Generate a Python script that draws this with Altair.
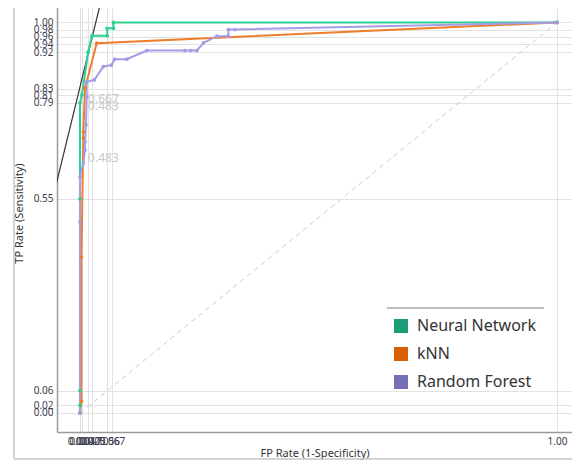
import altair as alt
import pandas as pd

series = ["Neural Network", "kNN", "Random Forest"]
line_colors = ["#2fcf90", "#f07d2a", "#a29de6"]
legend_colors = ["#1b9e77", "#d95f02", "#7570b3"]

nn_fpr = [0, 0, 0, 0, 0, 0.004, 0.017, 0.025, 0.057, 0.057, 0.070, 0.070, 1.0]
nn_tpr = [0, 0.02, 0.057, 0.548, 0.794, 0.814, 0.924, 0.966, 0.966, 0.985, 0.985, 1.0, 1.0]

knn_fpr = [0, 0.003, 0.003, 0.007, 0.007, 0.0105, 0.035, 1.0]
knn_tpr = [0, 0.03, 0.40, 0.704, 0.72, 0.832, 0.947, 1.0]

rf_fpr = [0, 0, 0, 0.007, 0.0105, 0.0105, 0.0126, 0.014, 0.014, 0.030, 0.049, 0.066,
          0.073, 0.098, 0.140, 0.220, 0.232, 0.245, 0.259, 0.287, 0.311, 0.311, 0.325, 1.0]
rf_tpr = [0, 0.49, 0.605, 0.64, 0.673, 0.695, 0.738, 0.81, 0.848, 0.853, 0.887, 0.891,
          0.906, 0.906, 0.928, 0.928, 0.928, 0.928, 0.948, 0.965, 0.965, 0.982, 0.982, 1.0]

x_ticks = [0, 0.004, 0.017, 0.025, 0.056, 0.067, 1.0]
y_ticks = [0, 0.02, 0.057, 0.548, 0.794, 0.814, 0.83, 0.924, 0.944, 0.964, 0.982, 1.0]

thr_labels = ["0.667", "0.483", "0.483"]
thr_fpr = [0.017, 0.017, 0.017]
thr_tpr = [0.804, 0.785, 0.653]

perf_fpr = [-0.07, 0.07]
perf_tpr = [0.485, 1.185]

rows = []
for name, xs, ys in [(series[0], nn_fpr, nn_tpr), (series[1], knn_fpr, knn_tpr), (series[2], rf_fpr, rf_tpr)]:
    for i, (a, b) in enumerate(zip(xs, ys)):
        rows.append({"model": name, "fpr": a, "tpr": b, "i": i})
df = pd.DataFrame(rows)

FONT = "Noto Sans"
xscale = alt.Scale(domain=[-0.0482, 1.0314], nice=False, zero=False)
yscale = alt.Scale(domain=[-0.0487, 1.0499], nice=False, zero=False)

x_axis = alt.Axis(values=x_ticks,
                  labelExpr="datum.value == 1 ? '1.00' : format(datum.value, '.3f')",
                  title="FP Rate (1-Specificity)", grid=True, gridColor="#e2e2e2", gridWidth=1,
                  ticks=False, labelOverlap=False, labelFlush=False, labelBound=False,
                  labelPadding=4, labelFontSize=10, labelColor="#3a3a4a", labelFont=FONT,
                  domainColor="#9a9a9a", domainWidth=1.5,
                  titleFontSize=11, titleFontWeight="normal", titleColor="#333", titleFont=FONT,
                  titleY=21, titleBaseline="middle")
y_axis = alt.Axis(values=y_ticks, format=".2f",
                  title="TP Rate (Sensitivity)", grid=True, gridColor="#e2e2e2", gridWidth=1,
                  ticks=False, labelOverlap=False, labelFlush=False, labelBound=False,
                  labelPadding=4, labelFontSize=10, labelColor="#3a3a4a", labelFont=FONT,
                  domainColor="#9a9a9a", domainWidth=1.5,
                  titleFontSize=11, titleFontWeight="normal", titleColor="#333", titleFont=FONT,
                  titleX=-38, titleY=210, titleAlign="center", titleBaseline="middle")

X = alt.X("fpr:Q", scale=xscale, axis=x_axis)
Y = alt.Y("tpr:Q", scale=yscale, axis=y_axis)

diag = alt.Chart(pd.DataFrame({"fpr": [0, 1], "tpr": [0, 1]})).mark_line(
    color="#cccccc", strokeDash=[5, 4], strokeWidth=1).encode(x=X, y=Y)

perf = alt.Chart(pd.DataFrame({"fpr": perf_fpr, "tpr": perf_tpr})).mark_line(
    color="#333333", strokeWidth=1.2, clip=True).encode(x=X, y=Y)

lines = alt.Chart(df).mark_line(
    strokeWidth=2, point=alt.OverlayMarkDef(size=14, filled=True)).encode(
    x=X, y=Y,
    color=alt.Color("model:N", scale=alt.Scale(domain=series, range=line_colors), legend=None),
    order="i:Q")

labels = alt.Chart(pd.DataFrame({"fpr": thr_fpr, "tpr": thr_tpr, "t": thr_labels})).mark_text(
    align="left", baseline="middle", fontSize=12, color="#c8c8c8", font=FONT).encode(
    x=X, y=Y, text="t:N")

legend_df = pd.DataFrame({"model": series, "fpr": [1.0] * 3, "tpr": [1.0] * 3})
legend_layer = alt.Chart(legend_df).mark_square(opacity=0, size=196).encode(
    x=X, y=Y,
    color=alt.Color("model:N", scale=alt.Scale(domain=series, range=legend_colors),
                    legend=alt.Legend(title=None, orient="none", legendX=336, legendY=315,
                                      symbolType="square", symbolSize=196, symbolOpacity=1,
                                      symbolStrokeWidth=0, labelFontSize=16, labelFont=FONT,
                                      labelColor="#333", labelOffset=8, rowPadding=12,
                                      padding=0)))

legend_top = alt.Chart(pd.DataFrame({"k": [0]})).mark_rule(color="#a8a8a8", strokeWidth=1.5).encode(
    x=alt.value(330), x2=alt.value(487), y=alt.value(305))
frame_left = alt.Chart(pd.DataFrame({"k": [0]})).mark_rule(color="#c4c4c4", strokeWidth=1.5).encode(
    x=alt.value(-43), y=alt.value(-5), y2=alt.value(456))
frame_bottom = alt.Chart(pd.DataFrame({"k": [0]})).mark_rule(color="#c4c4c4", strokeWidth=1.5).encode(
    x=alt.value(-43), x2=alt.value(520), y=alt.value(456))

chart = alt.layer(diag, perf, lines, labels, legend_layer, legend_top, frame_left, frame_bottom).resolve_scale(
    color="independent").properties(
    width=515, height=429,
    autosize=alt.AutoSizeParams(type="none"),
    padding={"left": 49, "top": -5, "right": 0, "bottom": 28},
    background="white",
).configure_view(stroke=None)

chart.save("out.html", embed_options={"renderer": "svg", "actions": False})
